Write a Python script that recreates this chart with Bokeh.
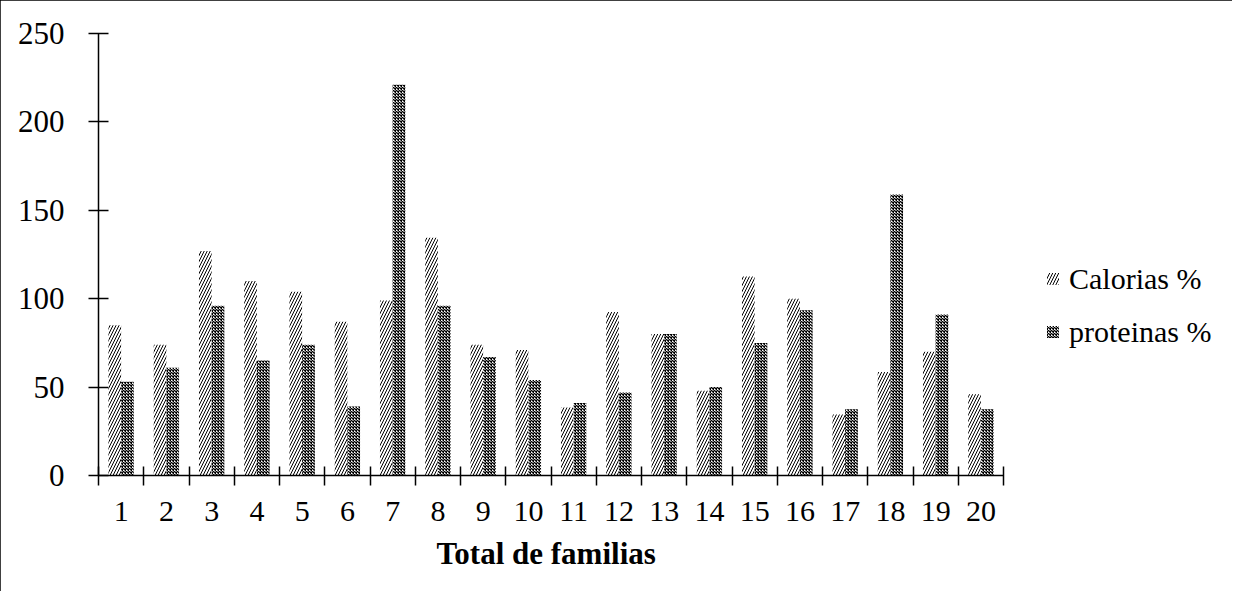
from bokeh.plotting import figure
from bokeh.models import ColumnDataSource, Range1d, FixedTicker, Legend, LegendItem, Title
from bokeh.transform import dodge
from bokeh.embed import file_html
from bokeh.resources import INLINE

familias = list(range(1, 21))
calorias = [85, 74, 127, 110, 104, 87, 99, 134.5, 74, 71, 38.5, 92.5, 80, 48, 112.5, 100, 34.5, 58.5, 70, 46]
proteinas = [53, 61, 96, 65, 74, 39, 221, 96, 67, 54, 41, 47, 80, 50, 75, 93.5, 37.5, 159, 91, 37.5]
y_ticks = [0, 50, 100, 150, 200, 250]
x_title = "Total de familias"

src = ColumnDataSource(dict(x=familias, cal=calorias, prot=proteinas))

FONT = "Liberation Serif"

# frame extends to the right so the legend can live inside it; axis is bounded to 0.5..20.5
p = figure(width=1232, height=591, output_backend="svg", toolbar_location=None,
           x_range=Range1d(0.5, 25.45), y_range=Range1d(0, 250),
           min_border_left=98, min_border_right=5, min_border_top=33, min_border_bottom=116)
p.styles = {"outline": "2px solid black", "outline-offset": "-2px"}
p.outline_line_color = None
p.xgrid.visible = False
p.ygrid.visible = False
p.background_fill_color = "white"
p.border_fill_color = "white"

r1 = p.vbar(x=dodge("x", -0.14), top="cal", width=0.28, source=src,
            fill_color="white", line_color=None,
            hatch_pattern="/", hatch_color="black", hatch_scale=6, hatch_weight=1.0)
r2 = p.vbar(x=dodge("x", 0.14), top="prot", width=0.28, source=src,
            fill_color="white", line_color=None,
            hatch_pattern="x", hatch_color="black", hatch_scale=3, hatch_weight=1.3)

# x axis: labels at centres, ticks at category boundaries
xa = p.xaxis[0]
xa.bounds = (0.5, 20.5)
xa.ticker = FixedTicker(ticks=familias, minor_ticks=[i + 0.5 for i in range(0, 21)])
xa.major_tick_line_color = None
xa.major_tick_in = 0
xa.major_tick_out = 0
xa.minor_tick_line_color = "black"
xa.minor_tick_line_width = 1.5
xa.minor_tick_in = 9
xa.minor_tick_out = 10
xa.axis_line_width = 1.5
xa.major_label_text_font = FONT
xa.major_label_text_font_size = "30px"
xa.major_label_text_color = "black"
xa.major_label_standoff = 16

# axis title centred under the bounded axis
t = Title(text=x_title, align="left", offset=338, standoff=20,
          text_font=FONT, text_font_size="31px", text_font_style="bold", text_color="black")
p.add_layout(t, "below")

ya = p.yaxis[0]
ya.ticker = FixedTicker(ticks=y_ticks, minor_ticks=[])
ya.major_tick_in = 10
ya.major_tick_out = 10
ya.major_tick_line_width = 1.5
ya.axis_line_width = 1.5
ya.minor_tick_line_color = None
ya.major_label_text_font = FONT
ya.major_label_text_font_size = "31px"
ya.major_label_text_color = "black"
ya.major_label_standoff = 24

legend = Legend(items=[LegendItem(label="Calorias %", renderers=[r1]),
                       LegendItem(label="proteinas %", renderers=[r2])],
                location=(947, 126), orientation="vertical",
                label_text_font=FONT, label_text_font_size="30px", label_text_color="black",
                glyph_width=15, glyph_height=15, label_height=35, spacing=18,
                label_standoff=9, padding=0, margin=0,
                border_line_color=None, background_fill_alpha=0)
p.add_layout(legend)

open("out.html", "w").write(file_html(p, INLINE))
